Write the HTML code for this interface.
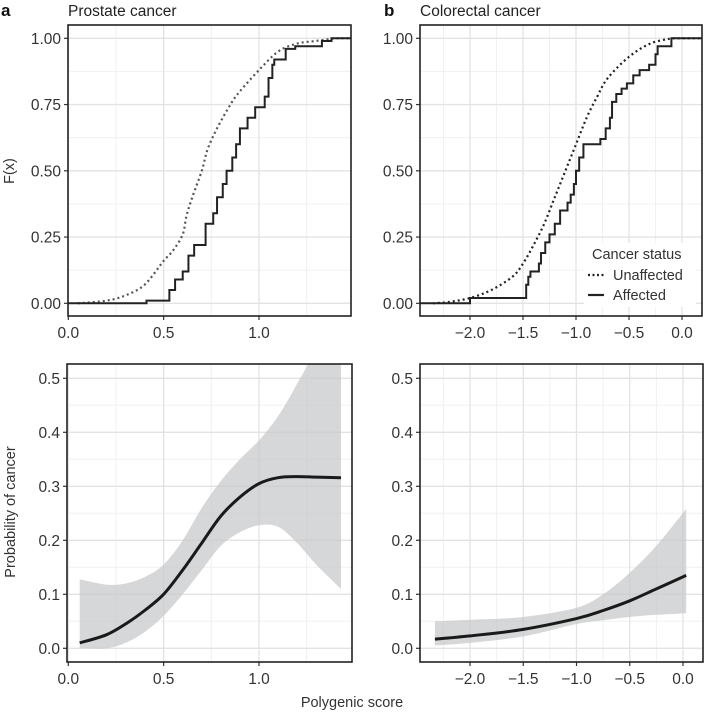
<!DOCTYPE html>
<html><head><meta charset="utf-8">
<style>
html,body{margin:0;padding:0;background:#fff;}
svg{display:block;font-family:"Liberation Sans",sans-serif;}
</style></head>
<body>
<svg id="fig" width="705" height="712" viewBox="0 0 705 712" xmlns="http://www.w3.org/2000/svg">
  <defs>
    <clipPath id="clipA"><rect x="68" y="25" width="283" height="291"/></clipPath>
    <clipPath id="clipB"><rect x="420" y="25" width="282" height="291"/></clipPath>
    <clipPath id="clipC"><rect x="67" y="364" width="285" height="298"/></clipPath>
    <clipPath id="clipD"><rect x="420" y="364" width="283" height="298"/></clipPath>
  </defs>
  <text x="1" y="16" font-size="17" font-weight="bold" fill="#111">a</text>
  <text x="68" y="16" font-size="15.5" fill="#222">Prostate cancer</text>
  <text x="384" y="16" font-size="17" font-weight="bold" fill="#111">b</text>
  <text x="420" y="16" font-size="15.5" fill="#222">Colorectal cancer</text>
  <text transform="translate(14,171) rotate(-90)" text-anchor="middle" font-size="14.5" fill="#333">F(x)</text>
  <text transform="translate(15,512) rotate(-90)" text-anchor="middle" font-size="14.5" fill="#333">Probability of cancer</text>
  <text x="352" y="707" text-anchor="middle" font-size="14.5" fill="#333">Polygenic score</text>
  <g id="layer"></g>
</svg>
<script>
// ---- data ----
const prosUnaffX = [0.05,0.2,0.3,0.4,0.5,0.55,0.6,0.62,0.65,0.7,0.73,0.78,0.85,0.9,1.0,1.1,1.2,1.3,1.4];
const prosUnaffY = [0,0.01,0.03,0.07,0.16,0.2,0.26,0.33,0.4,0.5,0.58,0.66,0.75,0.8,0.88,0.95,0.98,0.99,1.0];
const prosAffX = [0.41,0.52,0.53,0.56,0.6,0.63,0.66,0.72,0.76,0.78,0.81,0.83,0.86,0.88,0.9,0.94,0.98,1.03,1.05,1.07,1.08,1.14,1.19,1.33,1.38];
const prosAffY = [0.01,0.01,0.05,0.09,0.12,0.18,0.22,0.3,0.34,0.4,0.45,0.5,0.55,0.6,0.66,0.7,0.74,0.78,0.85,0.9,0.92,0.96,0.97,0.99,1.0];

const colUnaffX = [-2.35,-2.2,-2.0,-1.8,-1.6,-1.5,-1.4,-1.3,-1.2,-1.1,-1.0,-0.9,-0.8,-0.7,-0.5,-0.3,-0.1];
const colUnaffY = [0,0.005,0.02,0.05,0.1,0.15,0.22,0.3,0.4,0.5,0.6,0.7,0.78,0.85,0.93,0.98,1.0];
const colAffX = [-2.0,-1.48,-1.47,-1.45,-1.43,-1.35,-1.33,-1.29,-1.25,-1.2,-1.15,-1.08,-1.05,-1.02,-1.0,-0.97,-0.93,-0.77,-0.72,-0.68,-0.66,-0.62,-0.57,-0.52,-0.46,-0.4,-0.31,-0.25,-0.23,-0.1];
const colAffY = [0.02,0.02,0.07,0.1,0.12,0.15,0.19,0.23,0.26,0.3,0.35,0.38,0.41,0.45,0.5,0.55,0.6,0.62,0.66,0.7,0.76,0.79,0.81,0.83,0.86,0.88,0.9,0.94,0.97,1.0];

const prosFitX = [0.06,0.2,0.3,0.4,0.5,0.6,0.7,0.8,0.9,1.0,1.1,1.2,1.3,1.43];
const prosFit   = [0.01,0.025,0.045,0.07,0.1,0.145,0.195,0.245,0.28,0.305,0.316,0.318,0.317,0.316];
const prosUpper = [0.128,0.118,0.12,0.132,0.155,0.2,0.26,0.31,0.35,0.385,0.43,0.49,0.56,0.7];
const prosLower = [0.0,0.0,0.01,0.03,0.06,0.1,0.145,0.19,0.215,0.228,0.225,0.195,0.155,0.11];

const colFitX = [-2.33,-2.0,-1.5,-1.0,-0.75,-0.5,-0.25,0.03];
const colFit   = [0.017,0.023,0.035,0.055,0.07,0.088,0.11,0.135];
const colUpper = [0.05,0.053,0.058,0.075,0.1,0.14,0.19,0.258];
const colLower = [0.005,0.01,0.022,0.045,0.052,0.058,0.062,0.065];

const ticksTopY = [0,0.25,0.5,0.75,1.0];
const ticksTopYLab = ["0.00","0.25","0.50","0.75","1.00"];
const ticksBotY = [0,0.1,0.2,0.3,0.4,0.5];
const ticksBotYLab = ["0.0","0.1","0.2","0.3","0.4","0.5"];
const ticksProsX = [0,0.5,1.0];
const ticksProsXLab = ["0.0","0.5","1.0"];
const ticksColX = [-2,-1.5,-1,-0.5,0];
const ticksColXLab = ["\u22122.0","\u22121.5","\u22121.0","\u22120.5","0.0"];

const NS = "http://www.w3.org/2000/svg";
const layer = document.getElementById('layer');
function mk(tag, attrs, parent){
  const e = document.createElementNS(NS, tag);
  for (const k in attrs) e.setAttribute(k, attrs[k]);
  (parent||layer).appendChild(e);
  return e;
}

function panel(name, box, xs, ys, xt, xtl, yt, ytl, clip){
  const g = mk('g', {});
  
  
  mk('rect', {x:box.l, y:box.t, width:box.r-box.l, height:box.b-box.t, fill:'#fff'}, g);
  for (let i=0;i<xt.length+1;i++){
    const step = xt[1]-xt[0];
    const v = xt[0] - step/2 + i*step;
    const px = xs(v);
    if (px>box.l && px<box.r){ mk('line',{x1:px,x2:px,y1:box.t,y2:box.b,stroke:'#f0f0f0','stroke-width':1},g); }
  }
  for (let i=0;i<yt.length+1;i++){
    const step = yt[1]-yt[0];
    const v = yt[0] - step/2 + i*step;
    const py = ys(v);
    if (py>box.t && py<box.b){ mk('line',{x1:box.l,x2:box.r,y1:py,y2:py,stroke:'#f0f0f0','stroke-width':1},g); }
  }
  xt.forEach((v,i)=>{
    const px = xs(v);
    mk('line',{x1:px,x2:px,y1:box.t,y2:box.b,stroke:'#e3e3e3','stroke-width':1.3},g);
    mk('line',{x1:px,x2:px,y1:box.b,y2:box.b+4,stroke:'#333','stroke-width':1.2},g);
    const t = mk('text',{x:px,y:box.b+22,'text-anchor':'middle','font-size':15.5,fill:'#333'},g);
    
    
    t.textContent = xtl[i];
  });
  yt.forEach((v,i)=>{
    const py = ys(v);
    mk('line',{x1:box.l,x2:box.r,y1:py,y2:py,stroke:'#e3e3e3','stroke-width':1.3},g);
    mk('line',{x1:box.l-4,x2:box.l,y1:py,y2:py,stroke:'#333','stroke-width':1.2},g);
    const t = mk('text',{x:box.l-7,y:py+5.5,'text-anchor':'end','font-size':15.5,fill:'#333'},g);
    
    
    t.textContent = ytl[i];
  });
  const inner = mk('g', {'clip-path':'url(#'+clip+')'}, g);
  return {g, inner, box};
}

function stepPath(xs, ys, X, Y, x0, x1){
  let d = 'M'+xs(x0)+','+ys(0)+' H'+xs(X[0]);
  for (let i=0;i<X.length;i++){
    d += ' H'+xs(X[i])+' V'+ys(Y[i]);
  }
  d += ' H'+xs(x1);
  return d;
}
function smoothPath(xs, ys, X, Y){
  const P = X.map((x,i)=>[xs(x), ys(Y[i])]);
  let d = 'M'+P[0][0].toFixed(1)+','+P[0][1].toFixed(1);
  for (let i=0;i<P.length-1;i++){
    const p0=P[Math.max(0,i-1)], p1=P[i], p2=P[i+1], p3=P[Math.min(P.length-1,i+2)];
    const c1=[p1[0]+(p2[0]-p0[0])/6, p1[1]+(p2[1]-p0[1])/6];
    const c2=[p2[0]-(p3[0]-p1[0])/6, p2[1]-(p3[1]-p1[1])/6];
    d += ' C'+c1[0].toFixed(1)+','+c1[1].toFixed(1)+' '+c2[0].toFixed(1)+','+c2[1].toFixed(1)+' '+p2[0].toFixed(1)+','+p2[1].toFixed(1);
  }
  return d;
}
function ribbon(xs, ys, X, U, L){
  let d = smoothPath(xs, ys, X, U);
  const Xr = X.slice().reverse(), Lr = L.slice().reverse();
  d += ' L' + smoothPath(xs, ys, Xr, Lr).slice(1) + ' Z';
  return d;
}
function border(p){
  const b=p.box;
  mk('rect',{x:b.l,y:b.t,width:b.r-b.l,height:b.b-b.t,fill:'none',stroke:'#222','stroke-width':1.6},p.g);
}

// ---- Panel A ----
const xsA = v => 68.3 + v*190.7;
const ysA = v => 303.3 - v*265;
const pA = panel('panel-a-ecdf', {l:68,t:25,r:351,b:316}, xsA, ysA, ticksProsX, ticksProsXLab, ticksTopY, ticksTopYLab, 'clipA');
let e;
e = mk('path',{d:smoothPath(xsA,ysA,prosUnaffX,prosUnaffY)+' H'+xsA(1.5),fill:'none',stroke:'#555','stroke-width':2.2,'stroke-dasharray':'2 3'},pA.inner);


e = mk('path',{d:stepPath(xsA,ysA,prosAffX,prosAffY,0,1.5),fill:'none',stroke:'#222','stroke-width':2},pA.inner);


border(pA);

// ---- Panel B ----
const xsB = v => 682 + v*106;
const ysB = ysA;
const pB = panel('panel-b-ecdf', {l:420,t:25,r:702,b:316}, xsB, ysB, ticksColX, ticksColXLab, ticksTopY, ticksTopYLab, 'clipB');
e = mk('path',{d:smoothPath(xsB,ysB,colUnaffX,colUnaffY)+' H'+xsB(0.3),fill:'none',stroke:'#222','stroke-width':2.2,'stroke-dasharray':'2 3'},pB.inner);


e = mk('path',{d:stepPath(xsB,ysB,colAffX,colAffY,-2.5,0.3),fill:'none',stroke:'#222','stroke-width':2},pB.inner);


const lg = mk('g',{},pB.g);


mk('rect',{x:584,y:243,width:112,height:64,fill:'#fff'},lg);
e = mk('text',{x:592,y:259,'font-size':14.5,fill:'#333'},lg); e.textContent='Cancer status';
 
mk('line',{x1:588,x2:604,y1:275,y2:275,stroke:'#222','stroke-width':2.2,'stroke-dasharray':'2 2.5'},lg);
e = mk('text',{x:613,y:280,'font-size':14.5,fill:'#333'},lg); e.textContent='Unaffected';
 
mk('line',{x1:588,x2:604,y1:295,y2:295,stroke:'#222','stroke-width':2.2},lg);
e = mk('text',{x:613,y:300,'font-size':14.5,fill:'#333'},lg); e.textContent='Affected';
 
border(pB);

// ---- Panel C ----
const xsC = v => 68.3 + v*190.7;
const ysC = v => 648.3 - v*540;
const pC = panel('panel-a-probability', {l:67,t:364,r:352,b:662}, xsC, ysC, ticksProsX, ticksProsXLab, ticksBotY, ticksBotYLab, 'clipC');
e = mk('path',{d:ribbon(xsC,ysC,prosFitX,prosUpper,prosLower),fill:'#c8c9cb','fill-opacity':0.75},pC.inner);


e = mk('path',{d:smoothPath(xsC,ysC,prosFitX,prosFit),fill:'none',stroke:'#1a1a1a','stroke-width':3},pC.inner);


border(pC);

// ---- Panel D ----
const xsD = v => 683 + v*106.5;
const ysD = ysC;
const pD = panel('panel-b-probability', {l:420,t:364,r:703,b:662}, xsD, ysD, ticksColX, ticksColXLab, ticksBotY, ticksBotYLab, 'clipD');
e = mk('path',{d:ribbon(xsD,ysD,colFitX,colUpper,colLower),fill:'#c8c9cb','fill-opacity':0.75},pD.inner);


e = mk('path',{d:smoothPath(xsD,ysD,colFitX,colFit),fill:'none',stroke:'#1a1a1a','stroke-width':3},pD.inner);


border(pD);
</script>
</body></html>
